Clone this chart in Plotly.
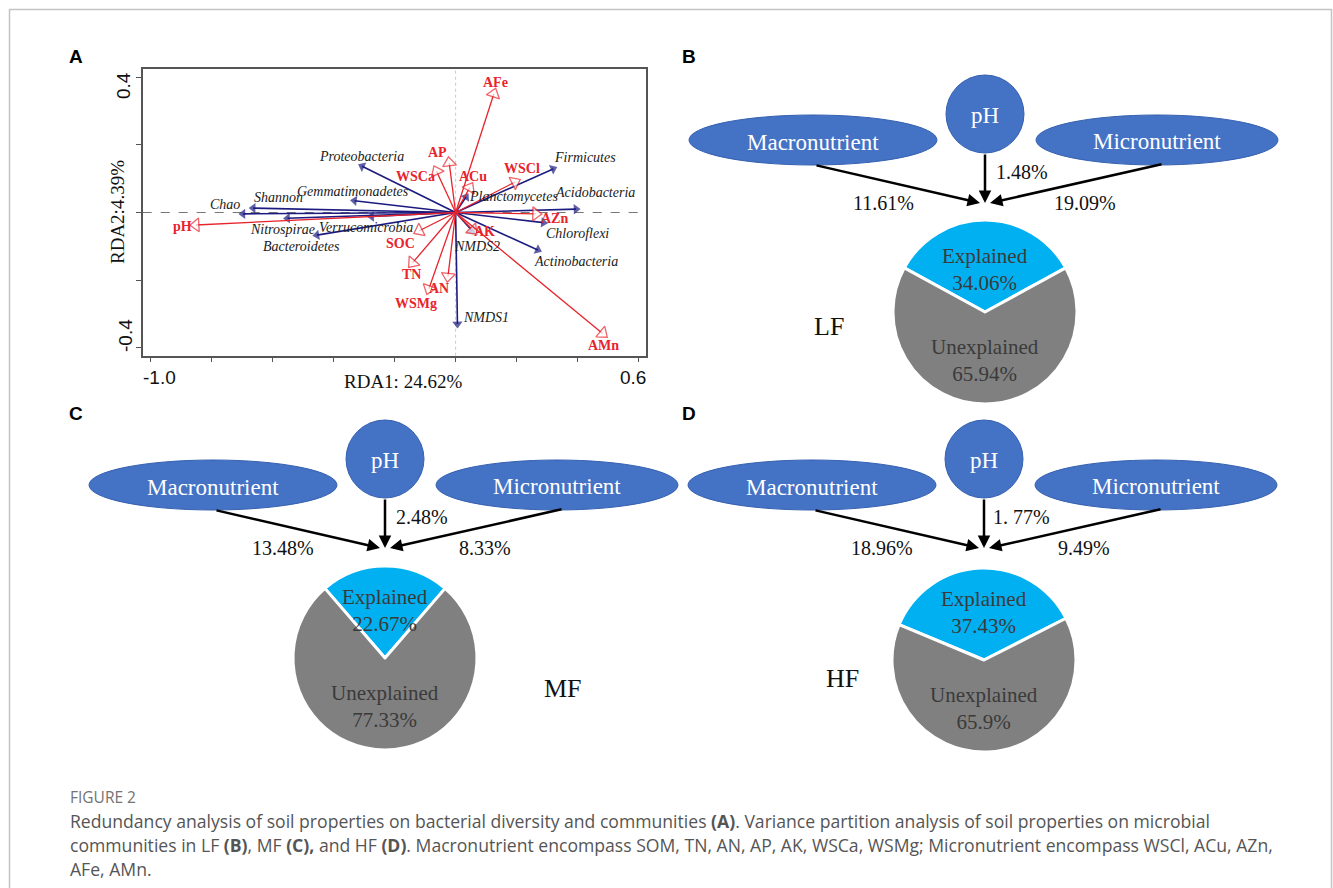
import plotly.graph_objects as go

W, H = 1333, 888

# ---------------- Panel A : RDA biplot data ----------------
env_names = ["pH", "AFe", "AP", "WSCa", "ACu", "WSCl", "AZn", "AK", "AMn", "SOC", "TN", "AN", "WSMg"]
env_x = [-0.85, 0.125, -0.021, -0.0625, 0.046, 0.194, 0.2625, 0.056, 0.481, -0.119, -0.141, -0.025, -0.0875]
env_y = [-0.037, 0.351, 0.147, 0.122, 0.073, 0.090, -0.004, -0.052, -0.358, -0.054, -0.149, -0.189, -0.226]

sp_names = ["Proteobacteria", "Gemmatimonadetes", "Shannon", "Chao", "Nitrospirae", "Verrucomicrobia",
            "Bacteroidetes", "Firmicutes", "Acidobacteria", "Planctomycetes", "Chloroflexi",
            "Actinobacteria", "NMDS2", "NMDS1"]
sp_x = [-0.306, -0.331, -0.6625, -0.696, -0.55, -0.275, -0.454, 0.319, 0.394, 0.034, 0.2875, 0.269, 0.054, 0.006]
sp_y = [0.137, 0.035, 0.013, -0.004, -0.017, -0.012, -0.067, 0.129, 0.010, 0.046, -0.030, -0.111, -0.054, -0.330]

# label placements (layout only)
env_lab_pos = [(-0.894, -0.040), (0.131, 0.386), (-0.060, 0.179), (-0.130, 0.106), (0.056, 0.107),
               (0.218, 0.129), (0.325, -0.019), (0.096, -0.055), (0.485, -0.395), (-0.181, -0.092),
               (-0.146, -0.184), (-0.055, -0.226), (-0.130, -0.268)]
sp_lab_pos = [(-0.309, 0.167), (-0.335, 0.061), (-0.579, 0.043), (-0.756, 0.023), (-0.565, -0.050),
              (-0.294, -0.045), (-0.503, -0.100), (0.425, 0.164), (0.455, 0.058), (0.190, 0.046),
              (0.400, -0.062), (0.394, -0.146), (0.069, -0.101), (0.100, -0.312)]

rda_x_title = "RDA1: 24.62%"
rda_y_title = "RDA2:4.39%"
x_tick_vals = [-1.0, -0.8, -0.6, -0.4, -0.2, 0.0, 0.2, 0.4, 0.6]
y_tick_vals = [-0.4, -0.2, 0.0, 0.2, 0.4]
x_tick_labels = ["-1.0", "0.6"]
y_tick_labels = ["0.4", "-0.4"]

# ---------------- Panels B-D : variance partitioning ----------------
group_names = ["LF", "MF", "HF"]
macro_pct = ["11.61%", "13.48%", "18.96%"]
ph_pct = ["1.48%", "2.48%", "1. 77%"]
micro_pct = ["19.09%", "8.33%", "9.49%"]
explained = [34.06, 22.67, 37.43]
unexplained = [65.94, 77.33, 65.9]
explained_txt = ["34.06%", "22.67%", "37.43%"]
unexplained_txt = ["65.94%", "77.33%", "65.9%"]

# layout of the three diagrams (pixel space)
panel_cx = [985, 385, 984]
panel_top = [-345, 0, 0]           # vertical shift of the node/arrow block
pie_center_y = [312, 658, 660]
group_lab_off = [(-156, 14), (178, 30), (-142, 18)]
expl_lab_dy = [-43, -48, -48]

RED = "#e8232b"
NAVY = "#1b1b80"
SERIF = "Liberation Serif"
SANS = "Liberation Sans"
ELL_FILL = "#4472c4"
ELL_LINE = "#3560b0"

fig = go.Figure()

# ---- RDA arrows ----
for i, n in enumerate(sp_names):
    fig.add_trace(go.Scatter(
        x=[0, sp_x[i]], y=[0, sp_y[i]], mode="lines+markers",
        line=dict(color=NAVY, width=1.6),
        marker=dict(symbol=["circle", "triangle-up"], size=[0, 9], angleref="previous",
                    color=NAVY, line=dict(width=0)),
        xaxis="x2", yaxis="y2", showlegend=False, hoverinfo="skip", cliponaxis=False))
for i, n in enumerate(env_names):
    fig.add_trace(go.Scatter(
        x=[0, env_x[i]], y=[0, env_y[i]], mode="lines+markers",
        line=dict(color=RED, width=1.3),
        marker=dict(symbol=["circle", "triangle-up"], size=[0, 12], angleref="previous",
                    color="white", line=dict(color=RED, width=1.3)),
        xaxis="x2", yaxis="y2", showlegend=False, hoverinfo="skip", cliponaxis=False))

annotations = []
for i, n in enumerate(env_names):
    annotations.append(dict(x=env_lab_pos[i][0], y=env_lab_pos[i][1], xref="x2", yref="y2",
                            text="<b>%s</b>" % n, showarrow=False,
                            font=dict(family=SERIF, size=14, color=RED)))
for i, n in enumerate(sp_names):
    annotations.append(dict(x=sp_lab_pos[i][0], y=sp_lab_pos[i][1], xref="x2", yref="y2",
                            text="<i>%s</i>" % n, showarrow=False,
                            font=dict(family=SERIF, size=14, color="#1a1a1a")))

# RDA axis texts (pixel placement)
axis_txt = [
    dict(x=159, y=377, text=x_tick_labels[0], font=dict(family=SANS, size=19, color="#111")),
    dict(x=633, y=377, text=x_tick_labels[1], font=dict(family=SANS, size=19, color="#111")),
    dict(x=123, y=86, text=y_tick_labels[0], textangle=-90, font=dict(family=SANS, size=19, color="#111")),
    dict(x=125, y=336, text=y_tick_labels[1], textangle=-90, font=dict(family=SANS, size=19, color="#111")),
    dict(x=403, y=381, text=rda_x_title, font=dict(family=SERIF, size=19, color="#111")),
    dict(x=117, y=212, text=rda_y_title, textangle=-90, font=dict(family=SERIF, size=19, color="#111")),
]
for a in axis_txt:
    a.update(xref="x", yref="y", showarrow=False)
annotations += axis_txt

# panel letters
for letter, (px, py) in zip(["A", "B", "C", "D"], [(76, 56), (689, 56), (76, 413), (689, 413)]):
    annotations.append(dict(x=px, y=py, xref="x", yref="y", text="<b>%s</b>" % letter, showarrow=False,
                            font=dict(family=SANS, size=19, color="#000")))

shapes = []
# outer frame (open at the bottom)
shapes.append(dict(type="rect", xref="x", yref="y", x0=9.5, y0=9.5, x1=1331.5, y1=905,
                   line=dict(color="#c4c4c4", width=1.5), layer="below"))
# zero lines in RDA
shapes.append(dict(type="line", xref="x2", yref="y2", x0=0, x1=0, y0=-0.424, y1=0.424,
                   line=dict(color="#c8c8c8", width=1, dash="dot"), layer="below"))
shapes.append(dict(type="line", xref="x2", yref="y2", x0=-1.024, x1=0.623, y0=0, y1=0,
                   line=dict(color="#777", width=1, dash="dash"), layer="below"))

# ---- variance-partitioning diagrams ----
for k in range(3):
    cx = panel_cx[k]
    dy = panel_top[k]
    ph_cy = 459 + dy
    ell_cy = 485 + dy
    tip_y = 548 + dy
    pie_cy = pie_center_y[k]
    r_pie = 92

    # ellipses and pH circle
    shapes.append(dict(type="circle", xref="x", yref="y", x0=cx - 172 - 124, x1=cx - 172 + 124,
                       y0=ell_cy - 25, y1=ell_cy + 25, fillcolor=ELL_FILL, line=dict(color=ELL_LINE, width=1)))
    shapes.append(dict(type="circle", xref="x", yref="y", x0=cx + 172 - 121, x1=cx + 172 + 121,
                       y0=ell_cy - 25, y1=ell_cy + 25, fillcolor=ELL_FILL, line=dict(color=ELL_LINE, width=1)))
    shapes.append(dict(type="circle", xref="x", yref="y", x0=cx - 39, x1=cx + 39,
                       y0=ph_cy - 39, y1=ph_cy + 39, fillcolor=ELL_FILL, line=dict(color=ELL_LINE, width=1)))
    for txt, tx, ty in [("Macronutrient", cx - 172, ell_cy + 2), ("Micronutrient", cx + 172, ell_cy + 1),
                        ("pH", cx, ph_cy + 1)]:
        annotations.append(dict(x=tx, y=ty, xref="x", yref="y", text=txt, showarrow=False,
                                font=dict(family=SERIF, size=23, color="white")))
    # arrows
    for (sx, sy, ex) in [(cx - 170, ell_cy + 25, cx - 5), (cx, ph_cy + 39, cx), (cx + 178, ell_cy + 24, cx + 5)]:
        annotations.append(dict(x=ex, y=tip_y, ax=sx, ay=sy, xref="x", yref="y", axref="x", ayref="y",
                                text="", showarrow=True, arrowhead=2, arrowsize=1, arrowwidth=2.5,
                                arrowcolor="#000", standoff=0, startstandoff=0))
    # percentages
    annotations.append(dict(x=cx - 102, y=tip_y, xref="x", yref="y", text=macro_pct[k], showarrow=False,
                            font=dict(family=SERIF, size=20, color="#111")))
    annotations.append(dict(x=cx + 100, y=tip_y, xref="x", yref="y", text=micro_pct[k], showarrow=False,
                            font=dict(family=SERIF, size=20, color="#111")))
    annotations.append(dict(x=cx + 37, y=tip_y - 31, xref="x", yref="y", text=ph_pct[k], showarrow=False,
                            font=dict(family=SERIF, size=20, color="#111")))
    # pie
    fig.add_trace(go.Pie(
        values=[explained[k], unexplained[k]], sort=False, direction="clockwise",
        rotation=-explained[k] * 3.6 / 2,
        marker=dict(colors=["#00b0f0", "#808080"], line=dict(color="white", width=3)),
        textinfo="none", hoverinfo="skip", showlegend=False,
        domain=dict(x=[(cx - r_pie) / W, (cx + r_pie) / W],
                    y=[1 - (pie_cy + r_pie) / H, 1 - (pie_cy - r_pie) / H])))
    annotations.append(dict(x=cx, y=pie_cy + expl_lab_dy[k], xref="x", yref="y",
                            text="Explained<br>" + explained_txt[k], showarrow=False,
                            font=dict(family=SERIF, size=21, color="#3a3a3a")))
    annotations.append(dict(x=cx, y=pie_cy + 48, xref="x", yref="y",
                            text="Unexplained<br>" + unexplained_txt[k], showarrow=False,
                            font=dict(family=SERIF, size=21, color="#3a3a3a")))
    gx, gy = group_lab_off[k]
    annotations.append(dict(x=cx + gx, y=pie_cy + gy, xref="x", yref="y", text=group_names[k],
                            showarrow=False, font=dict(family=SERIF, size=26, color="#111")))

# ---- caption ----
caption = [
    ("FIGURE 2", 797, 15.5, "#737373"),
    ("Redundancy analysis of soil properties on bacterial diversity and communities <b>(A)</b>. "
     "Variance partition analysis of soil properties on microbial", 821, 17.6, "#555"),
    ("communities in LF <b>(B)</b>, MF <b>(C),</b> and HF <b>(D)</b>. Macronutrient encompass SOM, TN, AN, AP, "
     "AK, WSCa, WSMg; Micronutrient encompass WSCl, ACu, AZn,", 845, 17.6, "#555"),
    ("AFe, AMn.", 869, 17.6, "#555"),
]
for txt, y, sz, col in caption:
    annotations.append(dict(x=68, y=y, xref="x", yref="y", xanchor="left", text=txt, showarrow=False,
                            font=dict(family="Open Sans", size=sz, color=col)))

fig.update_layout(
    width=W, height=H, margin=dict(l=0, r=0, t=0, b=0),
    paper_bgcolor="white", plot_bgcolor="rgba(0,0,0,0)",
    xaxis=dict(range=[0, W], domain=[0, 1], visible=False, fixedrange=True),
    yaxis=dict(range=[H, 0], domain=[0, 1], visible=False, fixedrange=True),
    xaxis2=dict(range=[-1.024, 0.623], domain=[142.7 / W, 646 / W], anchor="y2",
                showline=True, linecolor="#555", linewidth=1.5, mirror=True,
                ticks="outside", ticklen=5, tickcolor="#555", tickwidth=1.2,
                tickvals=x_tick_vals, showticklabels=False, showgrid=False, zeroline=False),
    yaxis2=dict(range=[-0.424, 0.424], domain=[1 - 355.7 / H, 1 - 69.3 / H], anchor="x2",
                showline=True, linecolor="#555", linewidth=1.5, mirror=True,
                ticks="outside", ticklen=5, tickcolor="#555", tickwidth=1.2,
                tickvals=y_tick_vals, showticklabels=False, showgrid=False, zeroline=False),
    shapes=shapes, annotations=annotations,
)

fig.write_html("out.html", config={"displayModeBar": False},
               post_script="document.body.style.margin='0px';document.body.style.overflow='hidden';")
